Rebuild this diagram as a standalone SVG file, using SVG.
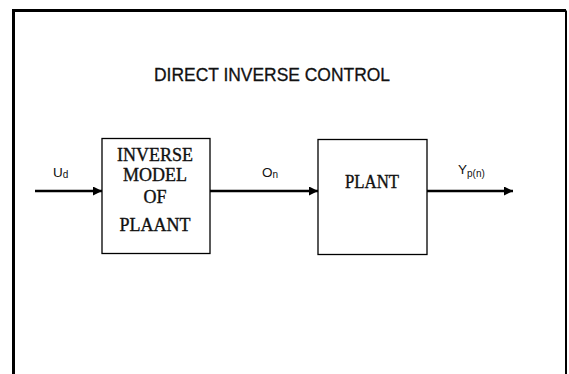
<svg xmlns="http://www.w3.org/2000/svg" width="569" height="374" viewBox="0 0 569 374">
<style>
.box{fill:#fff;stroke:#000;stroke-width:1.3}
.serif{font-family:"Liberation Serif","Times New Roman",serif;font-size:18px;fill:#111;stroke:#111;stroke-width:0.35;text-anchor:middle}
.sans{font-family:"Liberation Sans",Arial,sans-serif;fill:#111}
.wire{stroke:#000;stroke-width:2.4;fill:none}
</style>
<defs>
<marker id="ah" viewBox="0 0 10 10" refX="10" refY="5" markerWidth="10" markerHeight="9" markerUnits="userSpaceOnUse" orient="auto">
<path d="M0,0 L10,5 L0,10 z" fill="#000"/>
</marker>
</defs>
<rect width="569" height="374" fill="#fff"/>
<g id="frame">
<path d="M13.5,374 V10.5 H566" fill="none" stroke="#000" stroke-width="3"/>
<path d="M566,10.5 V374" fill="none" stroke="#000" stroke-width="2"/>
</g>
<text id="title" class="sans" x="154" y="81" font-size="18" stroke="#111" stroke-width="0.3" textLength="236" lengthAdjust="spacingAndGlyphs">DIRECT INVERSE CONTROL</text>
<g id="inverse-model">
<rect class="box" x="102" y="138.5" width="108" height="115"/>
<text class="serif" x="155" y="161">INVERSE</text>
<text class="serif" x="155" y="181">MODEL</text>
<text class="serif" x="155" y="203">OF</text>
<text class="serif" x="155" y="231">PLAANT</text>
</g>
<g id="plant">
<rect class="box" x="318" y="139.5" width="109" height="115"/>
<text class="serif" x="372" y="187.5" textLength="54" lengthAdjust="spacingAndGlyphs">PLANT</text>
</g>
<g id="connectors">
<line class="wire" x1="35" y1="191" x2="102" y2="191" marker-end="url(#ah)"/>
<line class="wire" x1="210" y1="191" x2="318" y2="191" marker-end="url(#ah)"/>
<line class="wire" x1="427" y1="191" x2="513" y2="191" marker-end="url(#ah)"/>
</g>
<g id="labels">
<text class="sans" x="53" y="177" font-size="13.5">U<tspan font-size="10" dy="1">d</tspan></text>
<text class="sans" x="262" y="177" font-size="13.5">O<tspan font-size="10" dy="1">n</tspan></text>
<text class="sans" x="458" y="173.5" font-size="13.5">Y<tspan font-size="10" dy="3">p(n)</tspan></text>
</g>
</svg>
